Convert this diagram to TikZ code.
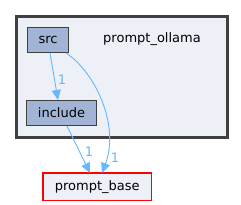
\documentclass[tikz,border=0pt]{standalone}
\usepackage{fontspec}
\setmainfont{DejaVu Sans}
\usetikzlibrary{arrows.meta}
\definecolor{clfill}{HTML}{EDF0F7}
\definecolor{dirfill}{HTML}{A2B4D6}
\definecolor{edgec}{HTML}{63B8FF}
\definecolor{bord}{HTML}{404040}
\definecolor{basered}{HTML}{FF0000}
\begin{document}
\begin{tikzpicture}[x=1pt,y=-1pt,
  every node/.style={font=\fontsize{13}{15}\selectfont, inner sep=0pt},
  dirbox/.style={draw=bord, fill=dirfill, line width=1pt, minimum height=25pt, anchor=north west},
  edge/.style={draw=edgec, line width=0.9pt, -{Triangle[length=10pt,width=9pt]}},
  elabel/.style={text=edgec}]
\useasboundingbox (0,0) rectangle (241,204);
\node[draw=bord, line width=2.5pt, fill=clfill, minimum width=211pt, minimum height=121pt, anchor=north west] (cluster) at (15,15) {};
\node (title) at (152,39) {prompt\_ollama};
\node[dirbox, minimum width=41pt] (src) at (27,27) {src};
\node[dirbox, minimum width=70pt] (include) at (26,100) {include};
\node[fill=clfill, minimum width=108pt, minimum height=27pt, anchor=north west] (base) at (43,173) {prompt\_base};
\draw[basered, line width=1.2pt] (base.north west) rectangle (base.south east);
\draw[edge] ([xshift=23pt]src.south west) -- ([xshift=32pt]include.north west);
\draw[edge] ([xshift=39pt]src.south west) .. controls (95,72) and (120,125) .. ([xshift=59pt]base.north west);
\draw[edge] ([xshift=41pt]include.south west) -- ([xshift=47pt]base.north west);
\node[elabel] (l1) at (62,80) {1};
\node[elabel] (l2) at (89,152) {1};
\node[elabel] (l3) at (115,158) {1};
\end{tikzpicture}
\end{document}
